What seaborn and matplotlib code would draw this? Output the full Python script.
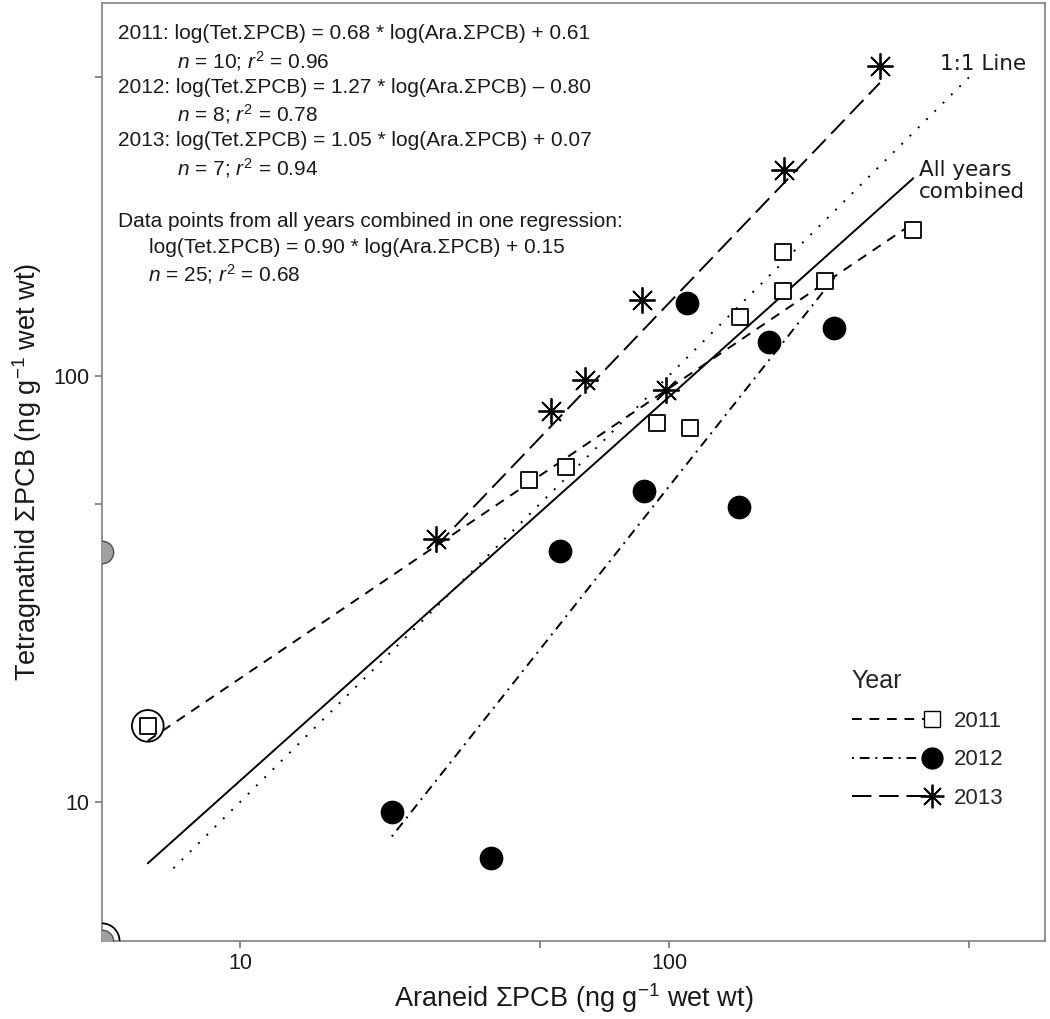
import numpy as np
import matplotlib
matplotlib.use("Agg")
import matplotlib.pyplot as plt
import seaborn as sns
from matplotlib.lines import Line2D
from matplotlib.legend_handler import HandlerLine2D
from matplotlib.ticker import NullLocator

# Araneid (x) vs tetragnathid (y) sum PCB, ng/g wet wt
x_2011 = [6.1, 47.2, 57.5, 93.8, 112, 146, 184.5, 184, 231, 371]
y_2011 = [15.1, 56.8, 61.2, 77.6, 75.5, 137, 158, 195, 167, 219]

x_2012 = [22.6, 38.5, 55.7, 87.5, 145.5, 110, 171, 243]
y_2012 = [9.47, 7.4, 38.9, 53.5, 49.3, 148, 120, 129]

x_2013 = [28.6, 53.1, 63.7, 86.5, 98.4, 185, 310]
y_2013 = [41.3, 82.8, 97.8, 150.7, 92.7, 303, 532]

# points sitting on the axis edge (grey) and the ringed ones
edge_x = [4.77, 4.77]
edge_y = [38.5, 4.73]
ring_x = [6.1, 4.77]
ring_y = [15.1, 4.73]
ring_s = [520, 640]

# regression slope / intercept (log-log)
fit_2011 = (0.68, 0.61)
fit_2012 = (1.27, -0.80)
fit_2013 = (1.05, 0.07)
fit_all = (0.90, 0.15)
one_to_one = [7, 500]

ticks = [10, 50, 100, 500]
tick_labels = ["10", "", "100", ""]

eq_lines = [
    "2011: log(Tet.ΣPCB) = 0.68 * log(Ara.ΣPCB) + 0.61",
    "$n$ = 10; $r^2$ = 0.96",
    "2012: log(Tet.ΣPCB) = 1.27 * log(Ara.ΣPCB) – 0.80",
    "$n$ = 8; $r^2$ = 0.78",
    "2013: log(Tet.ΣPCB) = 1.05 * log(Ara.ΣPCB) + 0.07",
    "$n$ = 7; $r^2$ = 0.94",
    "",
    "Data points from all years combined in one regression:",
    "log(Tet.ΣPCB) = 0.90 * log(Ara.ΣPCB) + 0.15",
    "$n$ = 25; $r^2$ = 0.68",
]
eq_indent = [0.017, 0.0795, 0.017, 0.0795, 0.017, 0.0795, 0, 0.017, 0.050, 0.049]

DASH_2011 = (0, (5, 4))
DASH_2012 = (0, (1, 3, 5, 3))
DASH_2013 = (0, (10, 4))
DOTTED = (0, (1, 5))


class EndMarker(HandlerLine2D):
    # marker at the right end of the legend line
    def create_artists(self, *args, **kwargs):
        arts = super().create_artists(*args, **kwargs)
        for a in arts:
            a.set_markevery([2])
        return arts


def reg_line(xs, fit):
    xr = np.array([min(xs), max(xs)])
    return xr, 10 ** (fit[0] * np.log10(xr) + fit[1])


def main():
    sns.set_style("white")
    plt.rcParams["font.family"] = ["Liberation Sans", "DejaVu Sans"]
    plt.rcParams["mathtext.fontset"] = "custom"
    plt.rcParams["mathtext.rm"] = "Liberation Sans"
    plt.rcParams["mathtext.it"] = "Liberation Sans:italic"

    fig, ax = plt.subplots(figsize=(10.5, 10.19), dpi=100)
    fig.subplots_adjust(left=0.0971, right=0.9952, bottom=0.0766, top=0.9971)
    ax.set_xscale("log")
    ax.set_yscale("log")

    lw = 1.4
    # regression lines
    for xs, fit, ls in [(x_2011, fit_2011, DASH_2011),
                        (x_2012, fit_2012, DASH_2012),
                        (x_2013, fit_2013, DASH_2013),
                        (x_2011 + x_2012 + x_2013, fit_all, "-")]:
        xr, yr = reg_line(xs, fit)
        sns.lineplot(x=xr, y=yr, color="black", linewidth=lw, linestyle=ls,
                     estimator=None, sort=False, legend=False, ax=ax)
    sns.lineplot(x=one_to_one, y=one_to_one, color="black", linewidth=lw,
                 linestyle=DOTTED, estimator=None, sort=False, legend=False, ax=ax)

    # points
    sns.scatterplot(x=edge_x, y=edge_y, s=260, color="#a0a0a0", edgecolor="#505050",
                    linewidth=1, zorder=3, legend=False, ax=ax)
    for rx, ry, rs in zip(ring_x, ring_y, ring_s):
        sns.scatterplot(x=[rx], y=[ry], s=rs, facecolor="none", edgecolor="black",
                        linewidth=1.3, zorder=3, legend=False, ax=ax)
    sns.scatterplot(x=x_2011, y=y_2011, marker="s", s=130, facecolor="white",
                    edgecolor="black", linewidth=1.3, zorder=4, legend=False, ax=ax)
    sns.scatterplot(x=x_2012, y=y_2012, marker="o", s=250, color="black",
                    edgecolor="black", zorder=4, legend=False, ax=ax)
    sns.scatterplot(x=x_2013, y=y_2013, marker=(8, 2, 0), s=330, color="black",
                    linewidth=1.3, zorder=4, legend=False, ax=ax)

    ax.set_xlim(4.77, 752)
    ax.set_ylim(4.73, 747)
    ax.set_xticks(ticks, tick_labels)
    ax.set_yticks(ticks, tick_labels)
    ax.xaxis.set_minor_locator(NullLocator())
    ax.yaxis.set_minor_locator(NullLocator())
    ax.tick_params(direction="out", length=5, width=1.3, color="#808080", pad=4,
                   labelsize=15.5, labelcolor="#1a1a1a", left=True, bottom=True)
    for sp in ax.spines.values():
        sp.set_visible(True)
        sp.set_color("#808080")
        sp.set_linewidth(1.2)

    ax.set_xlabel("Araneid ΣPCB (ng g$^{-1}$ wet wt)", fontsize=19.5, labelpad=5,
                  color="#1a1a1a")
    ax.set_ylabel("Tetragnathid ΣPCB (ng g$^{-1}$ wet wt)", fontsize=19.5, labelpad=7,
                  color="#1a1a1a")

    # equations block
    for i, (txt, xi) in enumerate(zip(eq_lines, eq_indent)):
        if not txt:
            continue
        ax.text(xi, 0.967 - i * 0.0285, txt, transform=ax.transAxes, va="center",
                ha="left", fontsize=15, color="#1a1a1a")

    ax.text(428, 537, "1:1 Line", family="DejaVu Sans", fontsize=15.5,
            va="center", ha="left", color="#1a1a1a")
    ax.text(383, 286, "All years\ncombined", family="DejaVu Sans", fontsize=15.5,
            va="center", ha="left", linespacing=1.15, color="#1a1a1a")

    handles = [
        Line2D([], [], color="black", lw=lw, linestyle=DASH_2011, marker="s",
               markersize=11, markerfacecolor="white", markeredgecolor="black"),
        Line2D([], [], color="black", lw=lw, linestyle=DASH_2012, marker="o",
               markersize=15, markerfacecolor="black", markeredgecolor="black"),
        Line2D([], [], color="black", lw=lw, linestyle=DASH_2013, marker=(8, 2, 0),
               markersize=17, markeredgewidth=1.3),
    ]
    ax.legend(handles, ["2011", "2012", "2013"], title="Year",
              loc="upper left", bbox_to_anchor=(0.795, 0.290),
              frameon=False, fontsize=16, title_fontsize=18,
              handlelength=3.6, handletextpad=1.0, labelspacing=0.8,
              borderpad=0, borderaxespad=0, alignment="left",
              handler_map={Line2D: EndMarker()})

    plt.savefig("out.png", dpi=100)


if __name__ == "__main__":
    main()
